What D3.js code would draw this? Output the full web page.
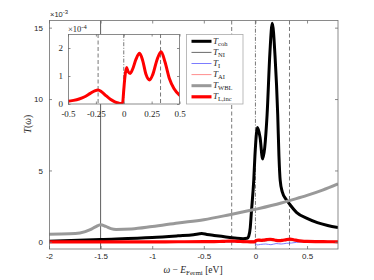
<!DOCTYPE html>
<html><head><meta charset="utf-8">
<script src="https://cdn.jsdelivr.net/npm/d3@7"></script>
<style>body{margin:0;background:#fff}svg{display:block}</style></head>
<body><svg id="c" width="374" height="280"></svg>
<script>
// ---------- data (main axis values in units of 1e-3) ----------
const omegaCoh = [-2, -1.5, -1, -0.75, -0.6, -0.52, -0.47, -0.4, -0.3, -0.2, -0.12, -0.08, -0.065, -0.05, -0.04, -0.016, -0.005, 0.02, 0.045, 0.07, 0.09, 0.113, 0.14, 0.163, 0.19, 0.216, 0.228, 0.24, 0.26, 0.3, 0.33, 0.4, 0.5, 0.6, 0.7, 0.8];
const tCoh     = [0.05, 0.17, 0.3, 0.42, 0.5, 0.58, 0.52, 0.45, 0.36, 0.27, 0.22, 0.25, 0.4, 1.0, 2.0, 4.35, 6.0, 8.0, 7.3, 5.8, 6.6, 8.9, 13.2, 15.3, 13.0, 8.9, 6.0, 4.3, 3.5, 2.95, 2.65, 2.05, 1.65, 1.35, 1.15, 1.0];

const omegaNI = [-2, -1, -0.5, 0, 0.2, 0.4, 0.8];
const tNI     = [0.01, 0.01, 0.02, 0.05, 0.1, 0.08, 0.03];

const omegaI = [-2, -0.02, 0.0, 0.01, 0.05, 0.1, 0.15, 0.2, 0.25, 0.3, 0.35, 0.4, 0.5, 0.8];
const tI     = [0, 0, -0.05, -0.22, -0.18, -0.15, -0.2, -0.12, -0.15, -0.1, -0.08, -0.03, 0, 0];

const omegaAI = [-2, -1, -0.5, 0, 0.2, 0.4, 0.8];
const tAI     = [0, 0, 0.01, 0.08, 0.15, 0.1, 0.02];

const omegaWbl = [-2, -1.8, -1.7, -1.6, -1.55, -1.5, -1.45, -1.4, -1.35, -1.2, -1, -0.75, -0.5, -0.25, 0, 0.25, 0.33, 0.5, 0.65, 0.8];
const tWbl     = [0.54, 0.56, 0.62, 0.85, 1.05, 1.2, 1.08, 0.93, 0.87, 0.9, 1.07, 1.32, 1.55, 1.9, 2.28, 2.72, 2.89, 3.25, 3.62, 4.06];

// T_L,inc in units of 1e-4 (inset scale); main axis uses /10
const omegaInc = [-2, -1.5, -1, -0.75, -0.5, -0.45, -0.4, -0.35, -0.3, -0.26, -0.23, -0.2, -0.16, -0.12, -0.08, -0.05, -0.03, -0.01, 0, 0.01, 0.025, 0.04, 0.058, 0.08, 0.11, 0.142, 0.17, 0.2, 0.232, 0.26, 0.3, 0.335, 0.37, 0.41, 0.45, 0.5, 0.6, 0.7, 0.8];
const tInc     = [0.02, 0.03, 0.04, 0.06, 0.1, 0.13, 0.18, 0.26, 0.38, 0.47, 0.5, 0.44, 0.3, 0.17, 0.08, 0.04, 0.02, 0.05, 0.5, 0.95, 1.3, 1.15, 1.09, 1.25, 1.6, 1.81, 1.55, 1.05, 0.86, 1.05, 1.6, 1.87, 1.5, 0.9, 0.55, 0.32, 0.15, 0.08, 0.05];

const refLines = [-1.5, -0.23, 0, 0.33];
const insetRefLines = [-0.23, 0, 0.33];

const xTicks = [-2, -1.5, -1, -0.5, 0, 0.5];
const xTickLabels = ["-2", "-1.5", "-1", "-0.5", "0", "0.5"];
const yTicks = [0, 5, 10, 15];
const yTickLabels = ["0", "5", "10", "15"];
const insetXTicks = [-0.5, -0.25, 0, 0.25, 0.5];
const insetXTickLabels = ["-0.5", "-0.25", "0", "0.25", "0.5"];
const insetYTicks = [0, 1, 2];
const insetYTickLabels = ["0", "1", "2"];

const legendKeys = ["coh", "NI", "I", "AI", "WBL", "L,inc"];

// ---------- drawing ----------
const svg = d3.select("#c");
const sans = "'Liberation Sans', Arial, sans-serif";
const serif = "'Liberation Serif', 'Times New Roman', serif";
const axisCol = "#6e6e6e";
const textCol = "#262626";

const x = d3.scaleLinear().domain([-2, 0.8]).range([49, 338]);
const y = d3.scaleLinear().domain([-0.5, 15.5]).range([249, 20.5]);

const defs = svg.append("defs");
defs.append("clipPath").attr("id", "mainClip").append("rect")
  .attr("x", 49).attr("y", 20.5).attr("width", 289).attr("height", 228.5);

const zip = (a, b) => a.map((v, i) => [v, b[i]]);

// reference lines
const refStyle = [
  {dash: null, col: "#333", w: 0.8},
  {dash: "4,2.5", col: "#555", w: 0.8},
  {dash: "4,1.6,1,1.6", col: "#555", w: 0.8},
  {dash: "4,2.5", col: "#555", w: 0.8}
];
svg.append("g").selectAll("line").data(refLines).join("line")
  .attr("x1", d => x(d)).attr("x2", d => x(d))
  .attr("y1", 20.5).attr("y2", 249)
  .attr("stroke", (d, i) => refStyle[i].col)
  .attr("stroke-width", (d, i) => refStyle[i].w)
  .attr("stroke-dasharray", (d, i) => refStyle[i].dash);

const line = d3.line().x(d => x(d[0])).y(d => y(d[1])).curve(d3.curveMonotoneX);
const series = [
  {data: zip(omegaCoh, tCoh), col: "#000", w: 3},
  {data: zip(omegaNI, tNI), col: "#444", w: 0.8},
  {data: zip(omegaI, tI), col: "#5a5aff", w: 0.8},
  {data: zip(omegaAI, tAI), col: "#ff7070", w: 0.8},
  {data: zip(omegaWbl, tWbl), col: "#999", w: 3},
  {data: zip(omegaInc, tInc.map(v => v / 10)), col: "#ff0000", w: 3.2}
];
const gCurves = svg.append("g").attr("clip-path", "url(#mainClip)");
gCurves.selectAll("path").data(series).join("path")
  .attr("d", d => line(d.data))
  .attr("fill", "none")
  .attr("stroke", d => d.col)
  .attr("stroke-width", d => d.w)
  .attr("stroke-linejoin", "round");

// main axes
function styleAxis(g) {
  g.select(".domain").remove();
  g.selectAll(".tick line").attr("stroke", axisCol).attr("stroke-width", 0.8);
  g.selectAll(".tick text").attr("fill", textCol).attr("font-family", sans).attr("font-size", 8);
}
svg.append("g").attr("transform", "translate(0,249)")
  .call(d3.axisBottom(x).tickValues(xTicks).tickFormat((d, i) => xTickLabels[i]).tickSizeInner(-3).tickSizeOuter(0).tickPadding(4.5))
  .call(styleAxis);
svg.append("g").attr("transform", "translate(0,20.5)")
  .call(d3.axisTop(x).tickValues(xTicks).tickFormat("").tickSizeInner(-3).tickSizeOuter(0))
  .call(styleAxis);
svg.append("g").attr("transform", "translate(49,0)")
  .call(d3.axisLeft(y).tickValues(yTicks).tickFormat((d, i) => yTickLabels[i]).tickSizeInner(-3).tickSizeOuter(0).tickPadding(6))
  .call(styleAxis);
svg.append("g").attr("transform", "translate(338,0)")
  .call(d3.axisRight(y).tickValues(yTicks).tickFormat("").tickSizeInner(-3).tickSizeOuter(0))
  .call(styleAxis);
svg.append("rect").attr("x", 49.5).attr("y", 20.5).attr("width", 288.5).attr("height", 228.5)
  .attr("fill", "none").attr("stroke", axisCol).attr("stroke-width", 0.8);

// exponent label main
const ex = svg.append("text").attr("x", 50).attr("y", 17).attr("fill", textCol)
  .attr("font-family", sans).attr("font-size", 7.5);
ex.append("tspan").text("×10");
ex.append("tspan").attr("dy", -3).attr("font-size", 6).text("-3");

// axis labels
const xl = svg.append("text").attr("x", 193).attr("y", 273).attr("text-anchor", "middle")
  .attr("fill", textCol).attr("font-family", serif).attr("font-size", 9.5);
xl.append("tspan").attr("font-style", "italic").text("ω");
xl.append("tspan").text(" − ");
xl.append("tspan").attr("font-style", "italic").text("E");
xl.append("tspan").attr("font-size", 7).attr("dy", 2).text("Fermi");
xl.append("tspan").attr("dy", -2).text(" [eV]");

const yl = svg.append("text").attr("transform", "translate(31,124) rotate(-90)")
  .attr("text-anchor", "middle").attr("fill", textCol).attr("font-family", serif).attr("font-size", 9.5);
yl.append("tspan").attr("font-style", "italic").text("T");
yl.append("tspan").text("(");
yl.append("tspan").attr("font-style", "italic").text("ω");
yl.append("tspan").text(")");

// ---------- inset ----------
const ix = d3.scaleLinear().domain([-0.5, 0.5]).range([68, 179.5]);
const iy = d3.scaleLinear().domain([0, 2.5]).range([104, 34]);
defs.append("clipPath").attr("id", "insetClip").append("rect")
  .attr("x", 68).attr("y", 34).attr("width", 111.5).attr("height", 70);
svg.append("rect").attr("x", 68).attr("y", 34).attr("width", 111.5).attr("height", 70).attr("fill", "#fff");

const insetStyle = [
  {dash: "4,2.5"}, {dash: "4,1.6,1,1.6"}, {dash: "4,2.5"}
];
svg.append("g").selectAll("line").data(insetRefLines).join("line")
  .attr("x1", d => ix(d)).attr("x2", d => ix(d))
  .attr("y1", 34).attr("y2", 104)
  .attr("stroke", "#555").attr("stroke-width", 0.8)
  .attr("stroke-dasharray", (d, i) => insetStyle[i].dash);

const iline = d3.line().x(d => ix(d[0])).y(d => iy(d[1])).curve(d3.curveMonotoneX);
svg.append("path").attr("clip-path", "url(#insetClip)")
  .attr("d", iline(zip(omegaInc, tInc)))
  .attr("fill", "none").attr("stroke", "#ff0000").attr("stroke-width", 3)
  .attr("stroke-linejoin", "round");

function styleInsetAxis(g) {
  g.select(".domain").remove();
  g.selectAll(".tick line").attr("stroke", axisCol).attr("stroke-width", 0.8);
  g.selectAll(".tick text").attr("fill", textCol).attr("font-family", serif).attr("font-size", 9);
}
svg.append("g").attr("transform", "translate(0,104)")
  .call(d3.axisBottom(ix).tickValues(insetXTicks).tickFormat((d, i) => insetXTickLabels[i]).tickSizeInner(-2.5).tickSizeOuter(0).tickPadding(6.5))
  .call(styleInsetAxis);
svg.append("g").attr("transform", "translate(0,34)")
  .call(d3.axisTop(ix).tickValues(insetXTicks).tickFormat("").tickSizeInner(-2.5).tickSizeOuter(0))
  .call(styleInsetAxis);
svg.append("g").attr("transform", "translate(68,0)")
  .call(d3.axisLeft(iy).tickValues(insetYTicks).tickFormat((d, i) => insetYTickLabels[i]).tickSizeInner(-2.5).tickSizeOuter(0).tickPadding(5))
  .call(styleInsetAxis);
svg.append("g").attr("transform", "translate(179.5,0)")
  .call(d3.axisRight(iy).tickValues(insetYTicks).tickFormat("").tickSizeInner(-2.5).tickSizeOuter(0))
  .call(styleInsetAxis);
svg.append("rect").attr("x", 68.5).attr("y", 34.5).attr("width", 111).attr("height", 69.5)
  .attr("fill", "none").attr("stroke", axisCol).attr("stroke-width", 0.8);

const iex = svg.append("text").attr("x", 68).attr("y", 32).attr("fill", textCol)
  .attr("font-family", serif).attr("font-size", 8.5);
iex.append("tspan").text("×10");
iex.append("tspan").attr("dy", -3.5).attr("font-size", 6.5).text("-4");

// ---------- legend ----------
const lg = svg.append("g");
lg.append("rect").attr("x", 186.5).attr("y", 34.5).attr("width", 56.5).attr("height", 69.5)
  .attr("fill", "#fff").attr("stroke", "#aaa").attr("stroke-width", 0.8);
const rowY = i => 41.3 + i * 11.1;
legendKeys.forEach((k, i) => {
  const s = series[i];
  lg.append("line").attr("x1", 191.5).attr("x2", 211.5).attr("y1", rowY(i)).attr("y2", rowY(i))
    .attr("stroke", s.col).attr("stroke-width", s.w);
  const t = lg.append("text").attr("x", 213).attr("y", rowY(i) + 2.5)
    .attr("fill", textCol).attr("font-family", serif).attr("font-size", 9);
  t.append("tspan").attr("font-style", "italic").text("T");
  t.append("tspan").attr("font-size", 6.5).attr("dy", 2).text(k);
});
</script>
</body></html>
